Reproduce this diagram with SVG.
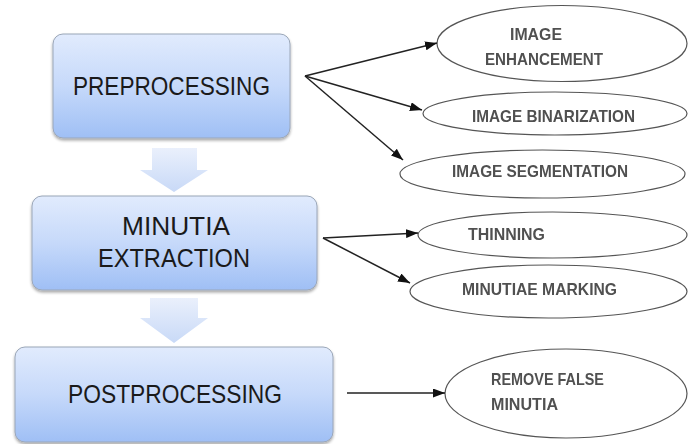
<svg xmlns="http://www.w3.org/2000/svg" width="688" height="444" viewBox="0 0 688 444">
<defs>
<linearGradient id="boxg" x1="0" y1="0" x2="0" y2="1">
<stop offset="0" stop-color="#e1ebfd"/>
<stop offset="0.5" stop-color="#c6d9fa"/>
<stop offset="1" stop-color="#9fbff5"/>
</linearGradient>
<linearGradient id="arrg" x1="0" y1="0" x2="0" y2="1">
<stop offset="0" stop-color="#eaf0fc"/>
<stop offset="1" stop-color="#c8d9f7"/>
</linearGradient>
<filter id="sh" x="-10%" y="-10%" width="120%" height="130%">
<feGaussianBlur in="SourceAlpha" stdDeviation="1.5"/>
<feOffset dx="0" dy="2" result="b"/>
<feComponentTransfer><feFuncA type="linear" slope="0.35"/></feComponentTransfer>
<feMerge><feMergeNode/><feMergeNode in="SourceGraphic"/></feMerge>
</filter>
<marker id="ah" viewBox="0 0 12 9" refX="12" refY="4.5" markerWidth="12" markerHeight="9" markerUnits="userSpaceOnUse" orient="auto">
<path d="M0,0 L12,4.5 L0,9 Z" fill="#111"/>
</marker>
</defs>
<style>
.box{fill:url(#boxg);stroke:#9aa6b8;stroke-width:1;filter:url(#sh)}
.blk{fill:url(#arrg);stroke:none}
.bt{font-family:"Liberation Sans",Arial,sans-serif;font-size:25px;fill:#1a1a1a;text-anchor:middle}
.el{fill:#fff;stroke:#555;stroke-width:1.2}
.et{font-family:"Liberation Sans",Arial,sans-serif;font-size:16.5px;fill:#2a2a2a;font-weight:bold;opacity:0.82}
.cn{stroke:#222;stroke-width:1.5;fill:none;marker-end:url(#ah)}
</style>
<g id="preprocessing">
<rect class="box" x="53" y="34" width="237" height="104" rx="10"/>
<text class="bt" x="171.5" y="95" textLength="197" lengthAdjust="spacingAndGlyphs">PREPROCESSING</text>
</g>
<g id="arrow1">
<path class="blk" d="M152,148 L197,148 L197,170 L208,170 L174,192 L140,170 L152,170 Z"/>
</g>
<g id="minutia-extraction">
<rect class="box" x="32" y="196" width="285" height="94" rx="10"/>
<text class="bt" x="176" y="235" textLength="108" lengthAdjust="spacingAndGlyphs">MINUTIA</text>
<text class="bt" x="174" y="267" textLength="152" lengthAdjust="spacingAndGlyphs">EXTRACTION</text>
</g>
<g id="arrow2">
<path class="blk" d="M150,298 L198,298 L198,318 L208,318 L174,343 L140,318 L150,318 Z"/>
</g>
<g id="postprocessing">
<rect class="box" x="15" y="347" width="318" height="95" rx="10"/>
<text class="bt" x="175" y="403" textLength="214" lengthAdjust="spacingAndGlyphs">POSTPROCESSING</text>
</g>
<g id="image-enhancement">
<ellipse class="el" cx="562" cy="43.5" rx="125" ry="38"/>
<text class="et" x="510" y="40" textLength="52" lengthAdjust="spacingAndGlyphs">IMAGE</text>
<text class="et" x="485" y="65" textLength="118" lengthAdjust="spacingAndGlyphs">ENHANCEMENT</text>
</g>
<g id="image-binarization">
<ellipse class="el" cx="555" cy="113.5" rx="132" ry="21.5"/>
<text class="et" x="472" y="122" textLength="163" lengthAdjust="spacingAndGlyphs">IMAGE BINARIZATION</text>
</g>
<g id="image-segmentation">
<ellipse class="el" cx="542.5" cy="174" rx="142.5" ry="24"/>
<text class="et" x="452" y="177" textLength="176" lengthAdjust="spacingAndGlyphs">IMAGE SEGMENTATION</text>
</g>
<g id="thinning">
<ellipse class="el" cx="552.5" cy="235" rx="134.5" ry="23"/>
<text class="et" x="468" y="240" textLength="77" lengthAdjust="spacingAndGlyphs">THINNING</text>
</g>
<g id="minutiae-marking">
<ellipse class="el" cx="548.5" cy="291.5" rx="138.5" ry="26.5"/>
<text class="et" x="462" y="295" textLength="155" lengthAdjust="spacingAndGlyphs">MINUTIAE MARKING</text>
</g>
<g id="remove-false-minutia">
<ellipse class="el" cx="566" cy="393.5" rx="121" ry="44.5"/>
<text class="et" x="491" y="385" textLength="113" lengthAdjust="spacingAndGlyphs">REMOVE FALSE</text>
<text class="et" x="491" y="410" textLength="67" lengthAdjust="spacingAndGlyphs">MINUTIA</text>
</g>
<g id="connectors">
<line class="cn" x1="305" y1="76" x2="437" y2="43"/>
<line class="cn" x1="305" y1="76" x2="422" y2="110"/>
<line class="cn" x1="305" y1="76" x2="403" y2="160"/>
<line class="cn" x1="323" y1="238" x2="418" y2="233"/>
<line class="cn" x1="323" y1="238" x2="410" y2="283"/>
<line class="cn" x1="347" y1="393" x2="445" y2="393"/>
</g>
</svg>
